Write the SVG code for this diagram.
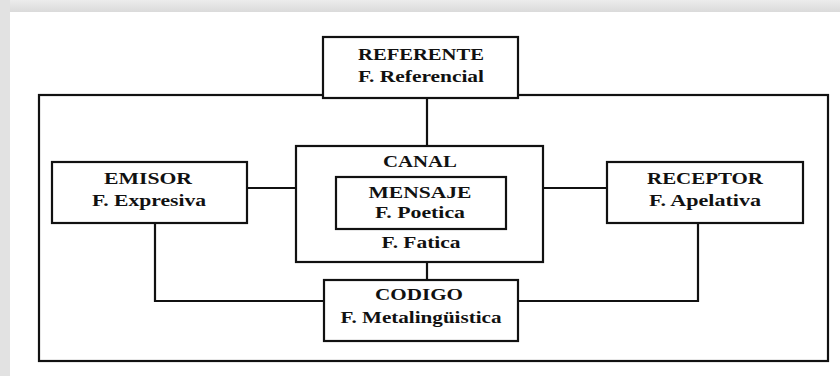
<svg xmlns="http://www.w3.org/2000/svg" width="840" height="376" viewBox="0 0 840 376">
<defs>
<linearGradient id="topband" x1="0" y1="0" x2="0" y2="1">
<stop offset="0" stop-color="#ececec"/>
<stop offset="1" stop-color="#dadada"/>
</linearGradient>
</defs>
<style>
.box{fill:#fff;stroke:#111;stroke-width:2.2}
.ln{fill:none;stroke:#111;stroke-width:2.2}
.t{font-family:"Liberation Serif","Times New Roman",serif;font-weight:bold;font-size:17px;fill:#111;text-anchor:middle}
</style>
<rect x="0" y="0" width="840" height="376" fill="#fff"/>
<rect x="0" y="0" width="840" height="12" fill="url(#topband)"/>
<rect x="0" y="0" width="10" height="376" fill="#e2e2e2"/>
<g id="connectors">
<rect class="ln" x="39" y="95" width="789" height="266"/>
<line class="ln" x1="427" y1="98" x2="427" y2="146"/>
<line class="ln" x1="248" y1="188" x2="296" y2="188"/>
<line class="ln" x1="543" y1="188" x2="607" y2="188"/>
<line class="ln" x1="427" y1="262" x2="427" y2="280"/>
<polyline class="ln" points="155,223 155,301 324,301"/>
<polyline class="ln" points="698,223 698,301 518,301"/>
</g>
<g id="referente">
<rect class="box" x="323" y="37" width="195" height="61"/>
<text class="t" x="421" y="60" textLength="126" lengthAdjust="spacingAndGlyphs">REFERENTE</text>
<text class="t" x="421" y="82" textLength="126" lengthAdjust="spacingAndGlyphs">F. Referencial</text>
</g>
<g id="emisor">
<rect class="box" x="52" y="162" width="195" height="61"/>
<text class="t" x="148" y="184" textLength="88" lengthAdjust="spacingAndGlyphs">EMISOR</text>
<text class="t" x="149" y="206" textLength="114" lengthAdjust="spacingAndGlyphs">F. Expresiva</text>
</g>
<g id="canal">
<rect class="box" x="296" y="146" width="247" height="116"/>
<text class="t" x="420" y="167" textLength="74" lengthAdjust="spacingAndGlyphs">CANAL</text>
<text class="t" x="421" y="248" textLength="79" lengthAdjust="spacingAndGlyphs">F. Fatica</text>
</g>
<g id="mensaje">
<rect class="box" x="336" y="177" width="170" height="52"/>
<text class="t" x="420" y="198" textLength="103" lengthAdjust="spacingAndGlyphs">MENSAJE</text>
<text class="t" x="420" y="218" textLength="90" lengthAdjust="spacingAndGlyphs">F. Poetica</text>
</g>
<g id="receptor">
<rect class="box" x="607" y="162" width="196" height="61"/>
<text class="t" x="705" y="184" textLength="116" lengthAdjust="spacingAndGlyphs">RECEPTOR</text>
<text class="t" x="705" y="206" textLength="112" lengthAdjust="spacingAndGlyphs">F. Apelativa</text>
</g>
<g id="codigo">
<rect class="box" x="324" y="280" width="194" height="61"/>
<text class="t" x="419" y="300" textLength="88" lengthAdjust="spacingAndGlyphs">CODIGO</text>
<text class="t" x="421" y="323" textLength="161" lengthAdjust="spacingAndGlyphs">F. Metalingüistica</text>
</g>
</svg>
